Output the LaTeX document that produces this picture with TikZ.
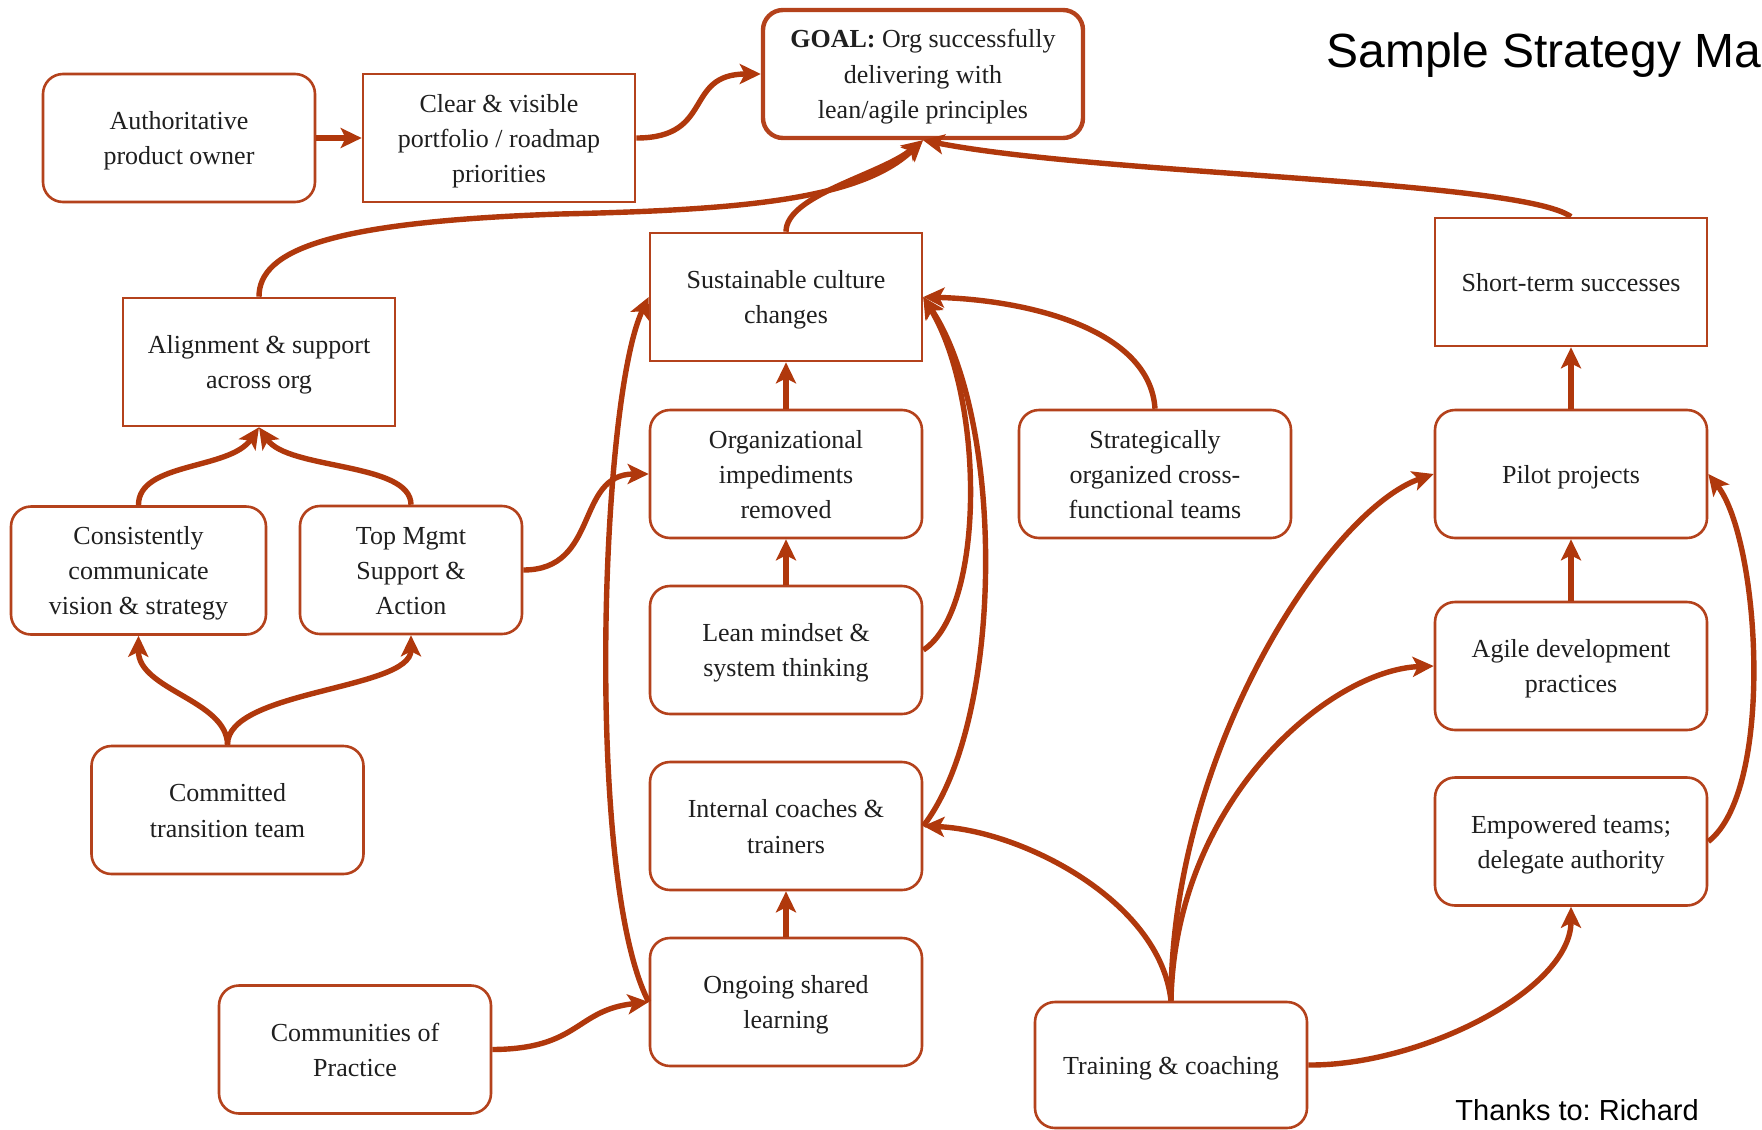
\documentclass[tikz,border=0pt]{standalone}
\usepackage{fontspec}
\setmainfont{Liberation Serif}
\newfontfamily\headfont{Liberation Sans}
\usetikzlibrary{arrows.meta}
\definecolor{rust}{RGB}{176,56,12}
\definecolor{rustframe}{RGB}{180,66,28}
% struts that even out the first and last line of every box
\newcommand{\boxtopstrut}{\rule{0pt}{12pt}}
\newcommand{\boxbotstrut}{\rule[-2.5pt]{0pt}{2.5pt}}

\begin{document}
\frenchspacing
\begin{tikzpicture}[x=0.5pt,y=-0.5pt,
  box/.style={draw=rustframe, line width=1.3pt, fill=white, minimum width=136pt,
    minimum height=64pt, inner sep=0pt, align=center,
    font=\fontsize{13}{17.6}\selectfont, text=black!88},
  rbox/.style={box, rounded corners=10pt},
  goalbox/.style={rbox, line width=2.2pt, minimum width=160pt},
  link/.style={draw=rust, line width=2.7pt, -{Stealth[length=10.5pt,width=10pt,inset=2.5pt]}},
  uplink/.style={link, line width=2.9pt},
  caption/.style={anchor=base west, inner sep=0pt, text=black},
]
\useasboundingbox (0,0) rectangle (1762,1130);
\fill[white] (0,0) rectangle (1762,1130);

% strategy elements
\node[rbox] (auth) at (179,138) {\boxtopstrut Authoritative\\product owner\boxbotstrut};
\node[box] (clear) at (499,138) {\boxtopstrut Clear \& visible\\portfolio / roadmap\\priorities\boxbotstrut};
\node[goalbox] (goal) at (923,74) {\boxtopstrut\textbf{GOAL:} Org successfully\\delivering with\\lean/agile principles\boxbotstrut};
\node[box] (align) at (259,362) {\boxtopstrut Alignment \& support\\across org\boxbotstrut};
\node[box] (sust) at (786,297) {\boxtopstrut Sustainable culture\\changes\boxbotstrut};
\node[box] (short) at (1571,282) {\boxtopstrut Short-term successes\boxbotstrut};
\node[rbox, minimum width=127.5pt] (cons) at (138.5,570.5) {\boxtopstrut Consistently\\communicate\\vision \& strategy\boxbotstrut};
\node[rbox, minimum width=111pt] (top) at (411,570) {\boxtopstrut Top Mgmt\\Support \&\\Action\boxbotstrut};
\node[rbox] (org) at (786,474) {\boxtopstrut Organizational\\impediments\\removed\boxbotstrut};
\node[rbox] (strat) at (1155,474) {\boxtopstrut Strategically\\organized cross-\\functional teams\boxbotstrut};
\node[rbox] (pilot) at (1571,474) {\boxtopstrut Pilot projects\boxbotstrut};
\node[rbox] (lean) at (786,650) {\boxtopstrut Lean mindset \&\\system thinking\boxbotstrut};
\node[rbox] (agile) at (1571,666) {\boxtopstrut Agile development\\practices\boxbotstrut};
\node[rbox] (commit) at (227.5,810) {\boxtopstrut Committed\\transition team\boxbotstrut};
\node[rbox] (coach) at (786,826) {\boxtopstrut Internal coaches \&\\trainers\boxbotstrut};
\node[rbox] (empower) at (1571,841.5) {\boxtopstrut Empowered teams;\\delegate authority\boxbotstrut};
\node[rbox] (cop) at (355,1049.5) {\boxtopstrut Communities of\\Practice\boxbotstrut};
\node[rbox] (learn) at (786,1002) {\boxtopstrut Ongoing shared\\learning\boxbotstrut};
\node[rbox, minimum height=63pt] (train) at (1171,1065) {\boxtopstrut Training \& coaching\boxbotstrut};

% headings
\node[caption, font=\headfont\fontsize{24}{28}\selectfont] (title) at (1326,67) {Sample Strategy Ma};
\node[caption, font=\headfont\fontsize{14.5}{17}\selectfont] (credit) at (1455,1120) {Thanks to: Richard};

% top row
\draw[link, line width=3.4pt] (auth) -- (clear);
\draw[link] (clear.east) .. controls (715,138) and (683,74) .. (goal.west);
\draw[link] (align.north) .. controls (259,250) and (330,222) .. (560,214)
  .. controls (740,210) and (860,200) .. (goal.south);
\draw[link] (sust.north) .. controls (786,195) and (880,175) .. (goal.south);
\draw[link] (short.north) .. controls (1520,180) and (1100,175) .. (goal.south);

% leadership branch
\draw[link] (cons.north) .. controls (138,462) and (230,470) .. (align.south);
\draw[link] (top.north) .. controls (411,462) and (288,470) .. (align.south);
\draw[link] (commit.north) .. controls (227,700) and (138,690) .. (cons.south);
\draw[link] (commit.north) .. controls (227,690) and (411,690) .. (top.south);
\draw[link] (top.east) .. controls (600,570) and (575,474) .. (org.west);

% culture column
\draw[uplink] (org) -- (sust);
\draw[uplink] (lean) -- (org);
\draw[uplink] (learn) -- (coach);
\draw[link] (lean.east) .. controls (985,610) and (985,400) .. (sust.east);
\draw[link] (coach.east) .. controls (1005,720) and (1005,420) .. (sust.east);
\draw[link] (strat.north) .. controls (1150,330) and (1030,300) .. (sust.east);
\draw[link] (learn.west) .. controls (585,880) and (600,400) .. (sust.west);
\draw[link] (cop.east) .. controls (580,1049) and (575,1010) .. (learn.west);

% delivery branch
\draw[link] (train.north) .. controls (1160,900) and (1020,830) .. (coach.east);
\draw[link] (train.north) .. controls (1171,750) and (1330,510) .. (pilot.west);
\draw[link] (train.north) .. controls (1175,800) and (1330,670) .. (agile.west);
\draw[link] (train.east) .. controls (1420,1066) and (1571,990) .. (empower.south);
\draw[uplink] (agile) -- (pilot);
\draw[uplink] (pilot) -- (short);
\draw[link] (empower.east) .. controls (1775,790) and (1760,540) .. (pilot.east);
\end{tikzpicture}
\end{document}
